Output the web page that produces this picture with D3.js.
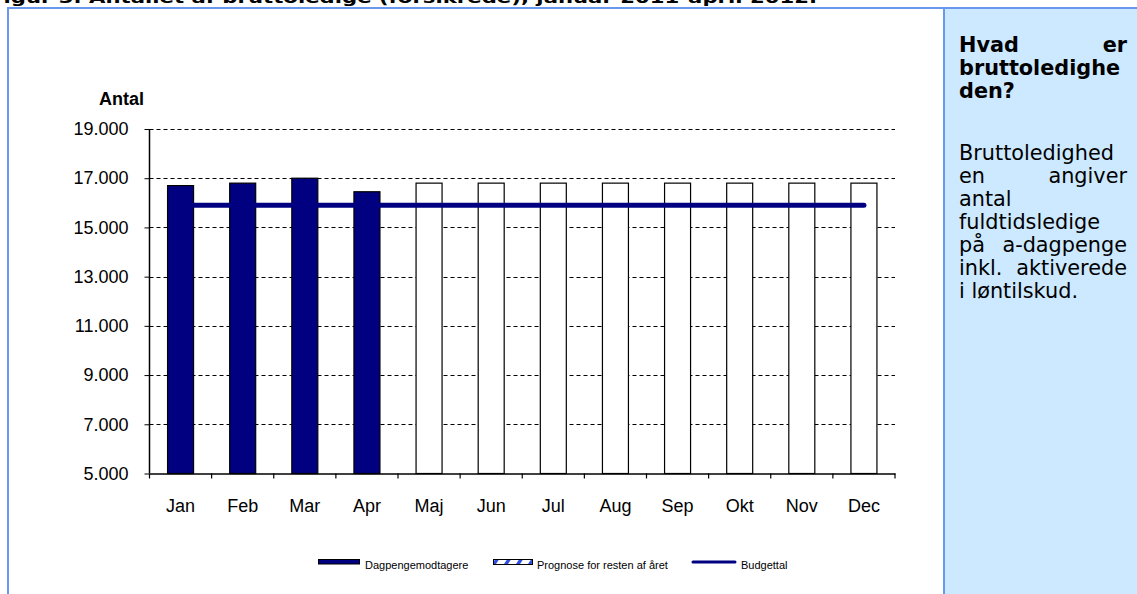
<!DOCTYPE html>
<html>
<head>
<meta charset="utf-8">
<script src="https://cdn.jsdelivr.net/npm/d3@7"></script>
<style>
  html, body { margin: 0; padding: 0; background: #fff; overflow: hidden; }
  svg { display: block; }
</style>
</head>
<body>
<svg id="chart" width="1137" height="594"></svg>
<script>
// Months on the x axis
const months = ["Jan", "Feb", "Mar", "Apr", "Maj", "Jun", "Jul", "Aug", "Sep", "Okt", "Nov", "Dec"];
// Registered recipients (actual months)
const actualMonths = ["Jan", "Feb", "Mar", "Apr"];
const actualValues = [16700, 16800, 17000, 16450];
// Forecast for the rest of the year
const forecastMonths = ["Maj", "Jun", "Jul", "Aug", "Sep", "Okt", "Nov", "Dec"];
const forecastValues = [16800, 16800, 16800, 16800, 16800, 16800, 16800, 16800];
// Budget figure per month
const budgetValues = [15900, 15900, 15900, 15900, 15900, 15900, 15900, 15900, 15900, 15900, 15900, 15900];
// Y axis ticks
const yTicks = [5000, 7000, 9000, 11000, 13000, 15000, 17000, 19000];
// Legend entries
const legendLabels = ["Dagpengemodtagere", "Prognose for resten af året", "Budgettal"];
// Text
const titleText = "Figur 3. Antallet af bruttoledige (forsikrede), januar 2011-april 2012.";
const yTitle = "Antal";

(function () {
const svg = d3.select("#chart");
const NAVY = "#000080";
const FRAME = "#6a97ee";
const sans = "'Liberation Sans', Arial, sans-serif";
const verd = "'DejaVu Sans', Verdana, sans-serif";

// Hatched pattern for the forecast legend swatch
const defs = svg.append("defs");
const pat = defs.append("pattern")
  .attr("id", "hatch").attr("patternUnits", "userSpaceOnUse")
  .attr("width", 12).attr("height", 6);
pat.append("rect").attr("width", 12).attr("height", 6).attr("fill", "#fff");
pat.append("path").attr("d", "M0,6 L4,0 L8,0 L4,6 Z").attr("fill", "#2f4fe0");

// Side panel
svg.append("rect").attr("x", 944).attr("y", 8).attr("width", 193).attr("height", 586)
  .attr("fill", "#cce9ff");
// Frame lines
svg.append("rect").attr("x", 7).attr("y", 7).attr("width", 1130).attr("height", 2).attr("fill", FRAME);
svg.append("rect").attr("x", 7).attr("y", 7).attr("width", 2).attr("height", 587).attr("fill", FRAME);
svg.append("rect").attr("x", 943).attr("y", 7).attr("width", 2).attr("height", 587).attr("fill", FRAME);

// Title (runs off the top edge)
svg.append("text").attr("x", -11).attr("y", 3)
  .attr("font-family", verd).attr("font-weight", "bold").attr("font-size", 16)
  .attr("textLength", 828).attr("lengthAdjust", "spacingAndGlyphs")
  .text(titleText);

// Scales
const pLeft = 149.5, pRight = 895, pTop = 129, pBottom = 473.5;
const x = d3.scaleBand().domain(months).range([pLeft, pRight]).padding(0);
const y = d3.scaleLinear().domain([5000, 19000]).range([pBottom, pTop]);
const locale = d3.formatLocale({ decimal: ",", thousands: ".", grouping: [3], currency: ["", " kr."] });
const fmt = locale.format(",d");

// Gridlines
svg.append("g").selectAll("line").data(yTicks.filter(v => v > 5000)).join("line")
  .attr("x1", pLeft).attr("x2", pRight)
  .attr("y1", d => Math.round(y(d)) + 0.5).attr("y2", d => Math.round(y(d)) + 0.5)
  .attr("stroke", "#000").attr("stroke-width", 1).attr("stroke-dasharray", "4,3");

// Y axis
const yAxis = svg.append("g").attr("transform", `translate(${pLeft},0)`)
  .call(d3.axisLeft(y).tickValues(yTicks).tickFormat(fmt).tickSize(5).tickPadding(16));
yAxis.select(".domain").attr("d", `M0,${pTop}V${pBottom}`).attr("stroke", "#000").attr("stroke-width", 1.5);
yAxis.selectAll(".tick line").attr("stroke", "#000");
yAxis.selectAll("text").attr("font-family", sans).attr("font-size", 18).attr("fill", "#000");

// X axis labels
const xAxis = svg.append("g").attr("transform", `translate(0,${pBottom})`)
  .call(d3.axisBottom(x).tickSize(0).tickPadding(26));
xAxis.select(".domain").attr("stroke", "#000").attr("stroke-width", 1.5);
xAxis.selectAll("text").attr("font-family", sans).attr("font-size", 18).attr("fill", "#000");
// X tick marks at category boundaries
svg.append("g").selectAll("line").data(months.concat(["__end"])).join("line")
  .attr("x1", d => d === "__end" ? pRight : x(d)).attr("x2", d => d === "__end" ? pRight : x(d))
  .attr("y1", pBottom).attr("y2", pBottom + 5)
  .attr("stroke", "#000").attr("stroke-width", 1.2);

// Bars
const bw = 26;
const bx = m => x(m) + (x.bandwidth() - bw) / 2;
svg.append("g").selectAll("rect").data(forecastMonths.map((m, i) => ({ m, v: forecastValues[i] }))).join("rect")
  .attr("x", d => bx(d.m)).attr("width", bw)
  .attr("y", d => y(d.v)).attr("height", d => pBottom - y(d.v))
  .attr("fill", "#fff").attr("stroke", "#000").attr("stroke-width", 1.2);
svg.append("g").selectAll("rect").data(actualMonths.map((m, i) => ({ m, v: actualValues[i] }))).join("rect")
  .attr("x", d => bx(d.m)).attr("width", bw)
  .attr("y", d => y(d.v)).attr("height", d => pBottom - y(d.v))
  .attr("fill", NAVY).attr("stroke", "#000").attr("stroke-width", 1.2);

// Budget line
const line = d3.line().x((d, i) => x(months[i]) + x.bandwidth() / 2).y(d => y(d));
svg.append("path").datum(budgetValues).attr("d", line)
  .attr("fill", "none").attr("stroke", NAVY).attr("stroke-width", 5).attr("stroke-linecap", "round");

// Y title
svg.append("text").attr("x", 99).attr("y", 105)
  .attr("font-family", sans).attr("font-weight", "bold").attr("font-size", 18).text(yTitle);

// Legend
const lg = svg.append("g").attr("font-family", sans).attr("font-size", 11).attr("fill", "#000");
lg.append("rect").attr("x", 318.5).attr("y", 559.5).attr("width", 41).attr("height", 4.5)
  .attr("fill", NAVY).attr("stroke", "#000").attr("stroke-width", 1);
lg.append("text").attr("x", 365).attr("y", 568.5).text(legendLabels[0]);
lg.append("rect").attr("x", 493.5).attr("y", 559.5).attr("width", 39).attr("height", 5)
  .attr("fill", "url(#hatch)").attr("stroke", "#000").attr("stroke-width", 1);
lg.append("text").attr("x", 537).attr("y", 568.5).text(legendLabels[1]);
lg.append("line").attr("x1", 693).attr("x2", 735).attr("y1", 562).attr("y2", 562)
  .attr("stroke", NAVY).attr("stroke-width", 3).attr("stroke-linecap", "round");
lg.append("text").attr("x", 741).attr("y", 568.5).text(legendLabels[2]);

// Side panel text, justified between two edges
const pL = 959, pR = 1127, fs = 20.8;
const panelLines = [
  { words: ["Hvad", "er"], y: 52, bold: true, just: true },
  { words: ["bruttoledighe"], y: 75, bold: true },
  { words: ["den?"], y: 98, bold: true },
  { words: ["Bruttoledighed"], y: 160 },
  { words: ["en", "angiver"], y: 183, just: true },
  { words: ["antal"], y: 206 },
  { words: ["fuldtidsledige"], y: 229 },
  { words: ["på", "a-dagpenge"], y: 252, just: true },
  { words: ["inkl.", "aktiverede"], y: 275, just: true },
  { words: ["i løntilskud."], y: 298 }
];
const pg = svg.append("g").attr("font-family", verd).attr("font-size", fs).attr("fill", "#000");
panelLines.forEach(l => {
  if (l.just) {
    pg.append("text").attr("x", pL).attr("y", l.y).attr("font-weight", l.bold ? "bold" : null).text(l.words[0]);
    pg.append("text").attr("x", pR).attr("y", l.y).attr("text-anchor", "end")
      .attr("font-weight", l.bold ? "bold" : null).text(l.words[1]);
  } else {
    pg.append("text").attr("x", pL).attr("y", l.y).attr("font-weight", l.bold ? "bold" : null).text(l.words.join(" "));
  }
});
})();
</script>
</body>
</html>
